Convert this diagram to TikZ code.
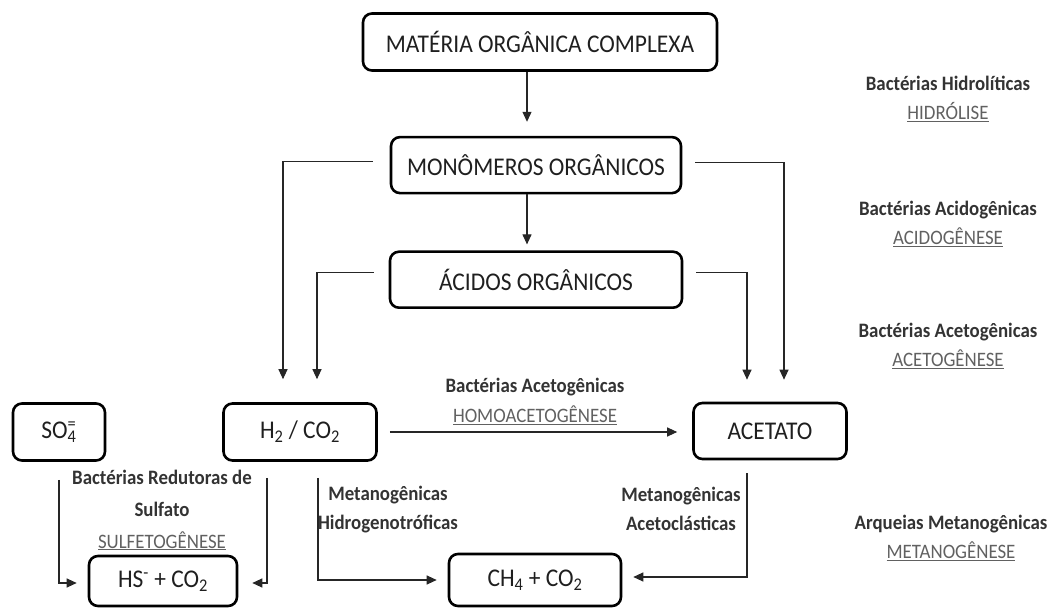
\documentclass[tikz,border=0pt]{standalone}
\usepackage{fontspec}
\setmainfont{Carlito}[FakeStretch=0.92]
\usetikzlibrary{positioning,arrows.meta}
\definecolor{boxtext}{gray}{0.12}
\definecolor{linegray}{gray}{0.15}
\definecolor{bacttext}{gray}{0.2}
\definecolor{fasetext}{gray}{0.38}
\newcommand{\fase}[1]{{\mdseries\color{fasetext}\underline{#1}}}

\begin{document}
\begin{tikzpicture}[%
        x=1pt, y=1pt,
        >={Triangle[length=10pt,width=9pt]},
        etapa/.style={%
          draw,
          line width=2.6pt,
          rounded corners=9pt,
          font=\fontsize{25.5}{28}\selectfont,
          text=boxtext
        },
        seta/.style={->, line width=1.1pt, draw=linegray},
        bact/.style={align=center, font=\bfseries\fontsize{20.5}{29}\selectfont, text=bacttext}
      ]
      \useasboundingbox (0,0) rectangle (1052,610);
      % coluna central
      \node[etapa,minimum width=354pt,minimum height=57pt] (mat) at (540,568) {MATÉRIA ORGÂNICA COMPLEXA};
      \node[etapa,minimum width=290pt,minimum height=56pt] (mon) [below=64pt of mat,xshift=-4pt] {MONÔMEROS ORGÂNICOS};
      \node[etapa,minimum width=292pt,minimum height=56pt] (acid) [below=56pt of mon] {ÁCIDOS ORGÂNICOS};
      % linha de baixo
      \node[etapa,minimum width=92pt,minimum height=57pt] (so4) at (59,178) {SO\rlap{\textsuperscript{=}}\textsubscript{4}};
      \node[etapa,minimum width=153pt,minimum height=57pt] (h2) at (300,178) {H\textsubscript{2} / CO\textsubscript{2}};
      \node[etapa,minimum width=153pt,minimum height=56pt] (acet) at (770,179) {ACETATO};
      \node[etapa,minimum width=148pt,minimum height=50pt] (hs) at (163,29) {HS\textsuperscript{-} + CO\textsubscript{2}};
      \node[etapa,minimum width=172pt,minimum height=52pt] (ch4) at (535,30) {CH\textsubscript{4} + CO\textsubscript{2}};

      \draw[seta,shorten >=14pt] ([xshift=-13pt]mat.south) -- ([xshift=-13pt]mat.south |- mon.north);
      \draw[seta,shorten >=6pt] ([xshift=-9pt]mon.south) -- ([xshift=-9pt]mon.south |- acid.north);
      \draw[seta,shorten <=17pt,shorten >=23pt] ([yshift=4pt]mon.west) -| ([xshift=-17pt]h2.north);
      \draw[seta,shorten <=15pt,shorten >=23pt] ([yshift=7pt]acid.west) -| ([xshift=17pt]h2.north);
      \draw[seta,shorten <=13pt,shorten >=22pt] ([yshift=7pt]acid.east) -| ([xshift=-23pt]acet.north);
      \draw[seta,shorten <=13pt,shorten >=22pt] ([yshift=3pt]mon.east) -| ([xshift=14pt]acet.north);
      \draw[seta,shorten <=12pt,shorten >=15pt] (h2.east) -- (h2.east -| acet.west)
        node[bact,midway,above=3pt,font=\bfseries\fontsize{20.5}{30}\selectfont] {Bactérias Acetogênicas\\ \fase{HOMOACETOGÊNESE}};
      \draw[seta,shorten <=18pt,shorten >=11pt] (so4.south) |- ([yshift=-2pt]hs.west);
      \draw[seta,shorten <=16pt,shorten >=14pt] ([xshift=-33pt]h2.south) |- ([yshift=-2pt]hs.east);
      \draw[seta,shorten <=16pt,shorten >=11pt] ([xshift=18pt]h2.south) |- (ch4.west);
      \draw[seta,shorten <=13pt,shorten >=11pt] ([xshift=-23pt]acet.south) |- ([yshift=3pt]ch4.east);

      % textos das bactérias
      \node[bact,font=\bfseries\fontsize{20.5}{32}\selectfont] (redut) at (162,100) {Bactérias Redutoras de\\ Sulfato\\ \fase{SULFETOGÊNESE}};
      \node[bact] (hidrog) at (388,100) {Metanogênicas\\ Hidrogenotróficas};
      \node[bact] (acetocl) at (681,101) {Metanogênicas\\ Acetoclásticas};
      \node[bact] (hidrol) at (948,511) {Bactérias Hidrolíticas\\ \fase{HIDRÓLISE}};
      \node[bact] (acidog) at (948,386) {Bactérias Acidogênicas\\ \fase{ACIDOGÊNESE}};
      \node[bact] (acetog) at (948,264) {Bactérias Acetogênicas\\ \fase{ACETOGÊNESE}};
      \node[bact] (metan) at (951,72) {Arqueias Metanogênicas\\ \fase{METANOGÊNESE}};
  \end{tikzpicture}
\end{document}
